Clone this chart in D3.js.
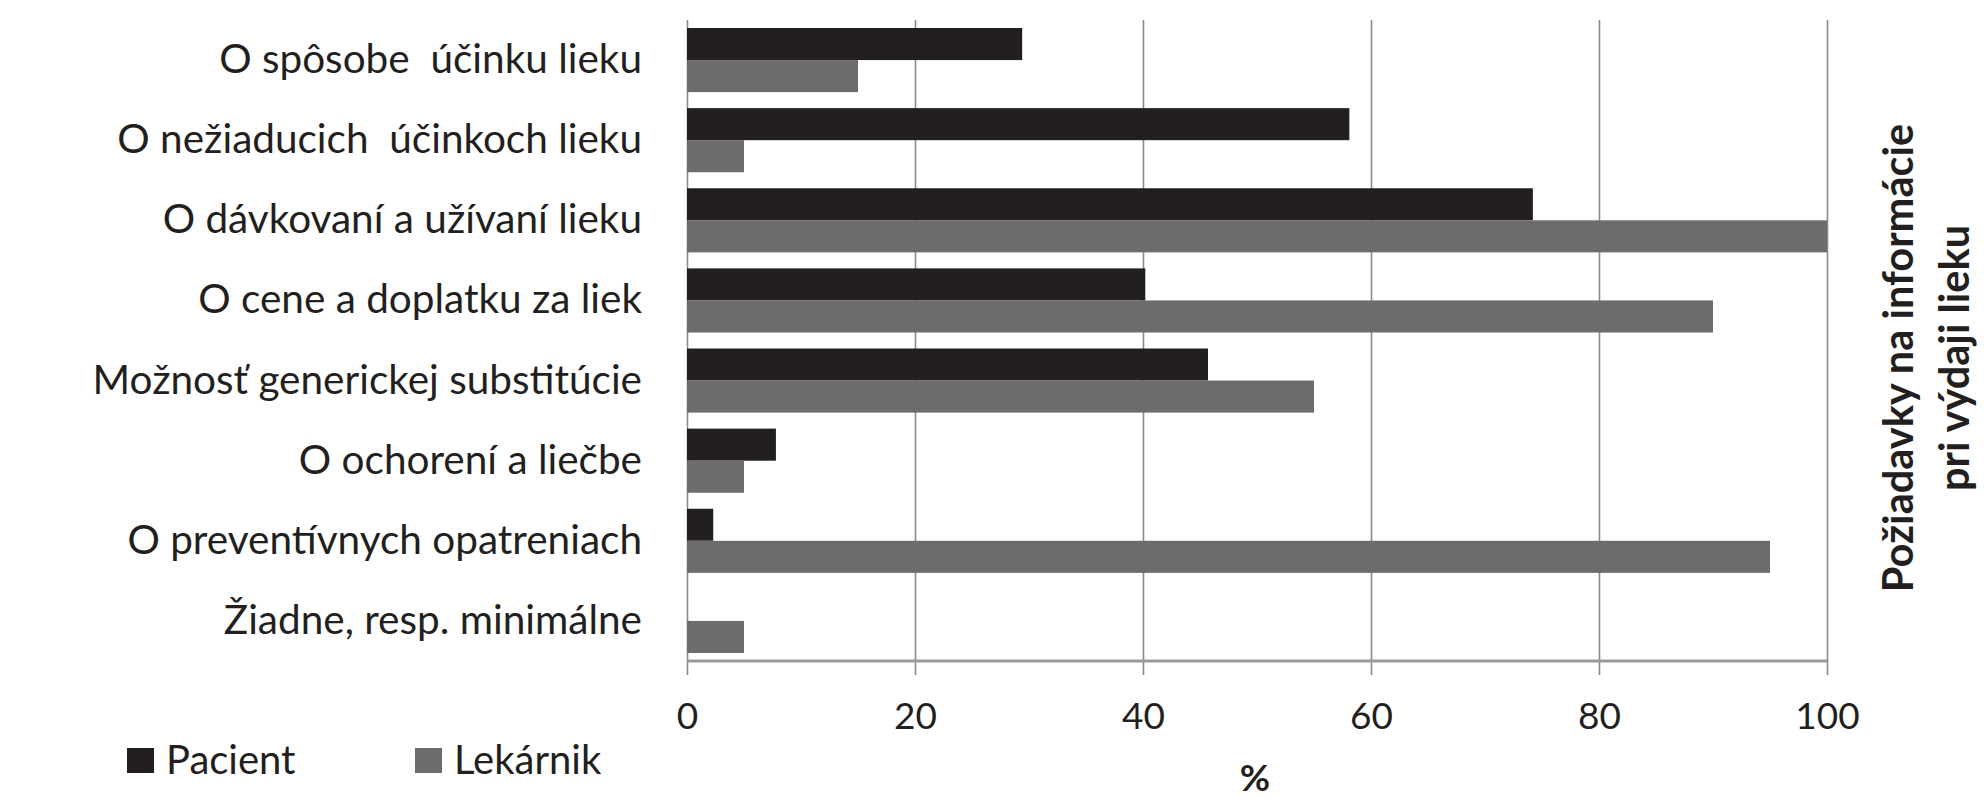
<!DOCTYPE html>
<html>
<head>
<meta charset="utf-8">
<script src="https://cdn.jsdelivr.net/npm/d3@7"></script>
<style>
  body { margin: 0; background: #fff; }
  text { font-family: Lato, "Open Sans", sans-serif; fill: #231f20; }
</style>
</head>
<body>
<script>
// Chart data
var categories = [
  "O spôsobe  účinku lieku",
  "O nežiaducich  účinkoch lieku",
  "O dávkovaní a užívaní lieku",
  "O cene a doplatku za liek",
  "Možnosť generickej substitúcie",
  "O ochorení a liečbe",
  "O preventívnych opatreniach",
  "Žiadne, resp. minimálne"
];
var series = ["Pacient", "Lekárnik"];
var pacient = [29.4, 58.1, 74.2, 40.2, 45.7, 7.8, 2.3, 0];
var lekarnik = [15, 5, 100, 90, 55, 5, 95, 5];
var xTicks = [0, 20, 40, 60, 80, 100];
var xTitle = "%";
var yTitle = ["Požiadavky na informácie", "pri výdaji lieku"];

var colors = { "Pacient": "#231f20", "Lekárnik": "#6d6b6c" };

var W = 1987, H = 800;
var plotLeft = 687, plotRight = 1827, plotTop = 20, plotBottom = 661;

var svg = d3.select("body").append("svg")
  .attr("width", W).attr("height", H);

// Scales
var x = d3.scaleLinear().domain([0, 100]).range([plotLeft, plotRight]);
var y = d3.scaleBand().domain(categories).range([plotTop, plotBottom])
  .paddingInner(0.2).paddingOuter(0.1);
var ySub = d3.scaleBand().domain(series).range([0, y.bandwidth()]);

// grid lines (vertical)
svg.append("g")
  .attr("transform", "translate(0," + (plotBottom + 14) + ")")
  .call(d3.axisBottom(x).tickValues(xTicks).tickSize(-(plotBottom + 14 - plotTop)).tickFormat(""))
  .call(function(g) {
    g.select(".domain").remove();
    g.selectAll("line").attr("stroke", "#8a8a8a").attr("stroke-width", 1.6);
  });

// bars
var rows = categories.map(function(c, i) {
  return { cat: c, vals: [{ s: "Pacient", v: pacient[i] }, { s: "Lekárnik", v: lekarnik[i] }] };
});

svg.append("g").selectAll("g")
  .data(rows)
  .enter().append("g")
  .attr("transform", function(d) { return "translate(0," + y(d.cat) + ")"; })
  .selectAll("rect")
  .data(function(d) { return d.vals; })
  .enter().append("rect")
  .attr("x", x(0))
  .attr("y", function(d) { return ySub(d.s); })
  .attr("height", ySub.bandwidth())
  .attr("width", function(d) { return x(d.v) - x(0); })
  .attr("fill", function(d) { return colors[d.s]; });

// horizontal axis line
svg.append("line")
  .attr("x1", x(0)).attr("x2", x(100))
  .attr("y1", plotBottom).attr("y2", plotBottom)
  .attr("stroke", "#9a9a9a").attr("stroke-width", 3);

// x tick labels
svg.append("g")
  .attr("transform", "translate(0," + (plotBottom + 14) + ")")
  .call(d3.axisBottom(x).tickValues(xTicks).tickSize(0).tickPadding(28))
  .call(function(g) {
    g.select(".domain").remove();
    g.selectAll("text").attr("font-size", 37).attr("font-family", "Lato, sans-serif").attr("fill", "#231f20");
  });

// category labels
svg.append("g")
  .attr("transform", "translate(642,0)")
  .call(d3.axisLeft(y).tickSize(0).tickPadding(0))
  .call(function(g) {
    g.select(".domain").remove();
    g.selectAll("text").attr("font-size", 40.5).attr("font-family", "Lato, sans-serif")
      .attr("fill", "#231f20").style("white-space", "pre");
  });

// x title
svg.append("text")
  .attr("x", 1255).attr("y", 791)
  .attr("text-anchor", "middle")
  .attr("font-size", 37).attr("font-weight", "bold")
  .text(xTitle);

// right title (rotated)
var rt = svg.append("text")
  .attr("transform", "translate(1898,358) rotate(-90)")
  .attr("text-anchor", "middle")
  .attr("font-size", 41.5).attr("font-weight", "bold");
yTitle.forEach(function(t, i) {
  rt.append("tspan").attr("x", 0).attr("dy", i == 0 ? "0.35em" : 56).text(t);
});

// legend
var legend = svg.append("g").selectAll("g")
  .data(series)
  .enter().append("g")
  .attr("transform", function(d, i) { return "translate(" + (127 + i * 288) + ",748)"; });
legend.append("rect")
  .attr("width", 27).attr("height", 25)
  .attr("fill", function(d) { return colors[d]; });
legend.append("text")
  .attr("x", 39).attr("y", 26)
  .attr("font-size", 40)
  .text(function(d) { return d; });
</script>
</body>
</html>
